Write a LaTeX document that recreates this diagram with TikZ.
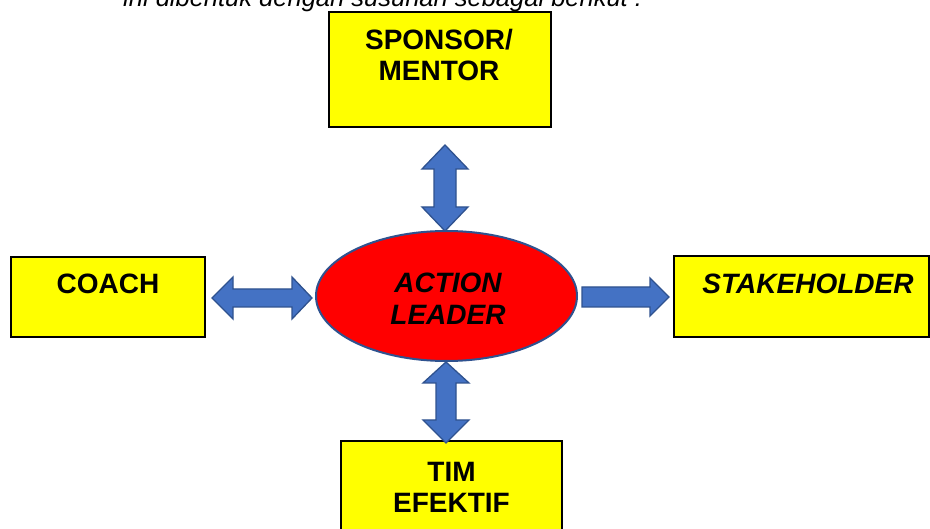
\documentclass[tikz,border=0pt]{standalone}
\usepackage{fontspec}
\setmainfont{Liberation Sans}
\begin{document}
\begin{tikzpicture}[x=1pt,y=-1pt,
  box/.style={draw=black,line width=1.2pt,fill={rgb,255:red,255;green,255;blue,0}},
  lbl/.style={font=\fontsize{28}{30.8}\selectfont\bfseries,align=center,inner sep=0pt,anchor=base},
  ilbl/.style={font=\fontsize{28}{32.3}\selectfont\bfseries\itshape,align=center,inner sep=0pt,anchor=base},
  blockarrow/.style={fill={rgb,255:red,68;green,114;blue,196},draw={rgb,255:red,47;green,82;blue,143},line width=1.3pt,line join=miter}]
\useasboundingbox (0,0) rectangle (930,529);
\clip (0,0) rectangle (930,529);
% heading line (partly cut)
\node[font=\fontsize{25.5}{30}\selectfont\itshape,inner sep=0pt,anchor=base west] (head) at (123,7) {ini dibentuk dengan susunan sebagai berikut :};
% boxes
\draw[box] (329,12) rectangle (551,127);
\node[lbl] (sponsorlbl) at (439,80.5) {SPONSOR/\\MENTOR};
\draw[box] (11,257) rectangle (205,337);
\node[lbl] (coach) at (108,294) {COACH};
\draw[box] (674,256) rectangle (929,337);
\node[ilbl] (stake) at (808,293.5) {STAKEHOLDER};
\draw[box] (341,441) rectangle (562,535);
\node[lbl] (tim) at (451.5,512.3) {TIM\\EFEKTIF};
% ellipse
\draw[fill=red,draw={rgb,255:red,47;green,82;blue,143},line width=2pt] (446.5,296) ellipse [x radius=130.5,y radius=65];
\node[ilbl] (leader) at (448,325) {ACTION\\LEADER};
% arrows
\draw[blockarrow] (445,145) -- (468,169) -- (456,169) -- (456,207) -- (468,207) -- (445,231) -- (422,207) -- (434,207) -- (434,169) -- (422,169) -- cycle;
\draw[blockarrow] (446,362) -- (469,383) -- (456,383) -- (456,420) -- (469,420) -- (446,443) -- (423,420) -- (436,420) -- (436,383) -- (423,383) -- cycle;
\draw[blockarrow] (212,298) -- (233,277) -- (233,289) -- (292,289) -- (292,277) -- (312,298) -- (292,319) -- (292,307) -- (233,307) -- (233,319) -- cycle;
\draw[blockarrow] (582,287) -- (650,287) -- (650,278) -- (669,297) -- (650,316) -- (650,307) -- (582,307) -- cycle;
\end{tikzpicture}
\end{document}
